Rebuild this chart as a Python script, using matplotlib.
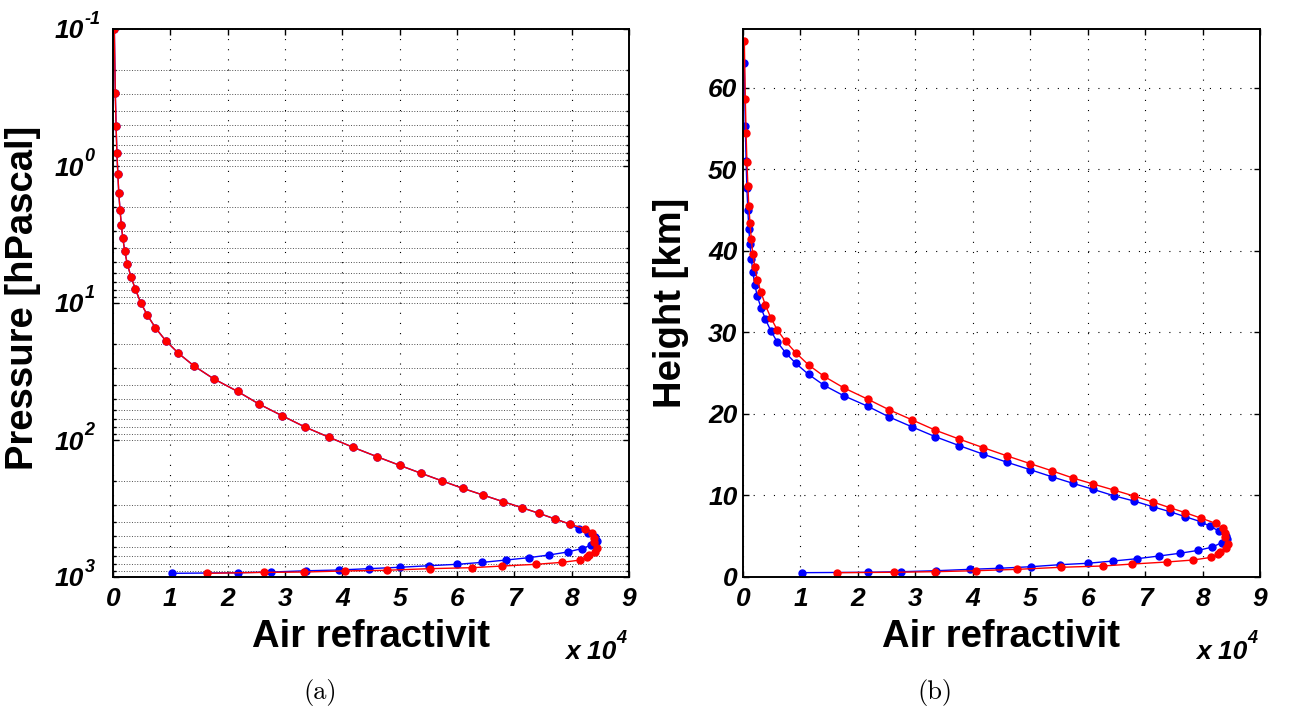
import matplotlib
matplotlib.use('Agg')
import matplotlib.pyplot as plt
from matplotlib.ticker import LogLocator, NullFormatter, FixedLocator

plt.rcParams['font.family'] = 'Liberation Sans'
plt.rcParams['lines.scale_dashes'] = False

# refractivity in units of 1e4, shared upper part of both profiles
n_upper = [0.023, 0.040, 0.054, 0.068, 0.085, 0.101, 0.122, 0.145, 0.171, 0.206,
           0.249, 0.315, 0.391, 0.484, 0.596, 0.741, 0.918, 1.142, 1.413, 1.753,
           2.173, 2.545, 2.949, 3.349, 3.768, 4.186, 4.597, 4.999, 5.374, 5.742,
           6.096, 6.452, 6.805, 7.134, 7.430, 7.701, 7.968]
p_upper = [0.1, 0.294, 0.51, 0.80, 1.15, 1.58, 2.08, 2.68, 3.37, 4.20,
           5.19, 6.46, 7.94, 9.95, 12.2, 15.2, 18.8, 23.3, 28.8, 35.7,
           44.2, 54.6, 66.5, 80.4, 95.5, 113, 132, 153, 175, 199,
           225, 252, 282, 312, 343, 376, 411]

# lower part, blue profile
n_blue_low = [8.129, 8.286, 8.401, 8.434, 8.333, 8.173, 7.928, 7.604, 7.249, 6.854,
              6.441, 5.998, 5.518, 5.007, 4.463, 3.949, 3.360, 2.757, 2.173, 1.023]
p_blue_low = [449, 480, 513, 549, 587, 621, 657, 691, 723, 752,
              782, 808, 827, 849, 869, 889, 901, 920, 931, 940]

# lower part, red profile
n_red_low = [8.230, 8.350, 8.398, 8.398, 8.450, 8.413, 8.295, 8.265, 8.151, 7.830,
             7.376, 6.780, 6.264, 5.532, 4.774, 4.051, 3.334, 2.637, 1.635]
p_red_low = [444, 480, 519, 558, 618, 654, 695, 715, 752, 782,
             808, 832, 855, 869, 893, 903, 920, 925, 940]

# heights [km]
h_blue = [63.07, 55.3, 51.05, 47.66, 44.97, 42.71, 40.8, 39.03, 37.4, 35.84,
          34.42, 32.99, 31.6, 30.2, 28.82, 27.5, 26.2, 24.84, 23.5, 22.23,
          20.93, 19.62, 18.39, 17.2, 16.1, 15.05, 14.07, 13.16, 12.3, 11.49,
          10.75, 9.97, 9.32, 8.62, 8.01, 7.39, 6.78,
          6.22, 5.64, 5.03, 4.70, 4.21, 3.68, 3.27, 2.91, 2.58, 2.24,
          1.96, 1.68, 1.51, 1.26, 1.07, 0.94, 0.77, 0.65, 0.58, 0.53]
h_red = [65.7, 58.65, 54.4, 50.9, 48.0, 45.5, 43.4, 41.4, 39.6, 38.0,
         36.4, 34.9, 33.3, 31.8, 30.3, 28.9, 27.5, 26.0, 24.6, 23.2,
         21.8, 20.5, 19.25, 18.0, 16.9, 15.85, 14.85, 13.9, 13.03, 12.14,
         11.40, 10.67, 9.93, 9.20, 8.50, 7.88, 7.23,
         6.58, 6.01, 5.43, 4.87, 4.01, 3.56, 3.10, 2.82, 2.41, 2.08,
         1.84, 1.59, 1.35, 1.19, 0.94, 0.77, 0.65, 0.58, 0.53]

n_blue = n_upper + n_blue_low
n_red = n_upper + n_red_low
p_blue = p_upper + p_blue_low
p_red = p_upper + p_red_low

x_ticks = list(range(10))
p_ticks = [0.1, 1, 10, 100, 1000]
p_exponents = ['-1', '0', '1', '2', '3']
h_ticks = [0, 10, 20, 30, 40, 50, 60]

W, H = 1290, 709
fig = plt.figure(figsize=(W / 100, H / 100), dpi=100)
ax1 = fig.add_axes([113 / W, 1 - 577 / H, 516 / W, 548 / H])
ax2 = fig.add_axes([743 / W, 1 - 577 / H, 517 / W, 548 / H])

tick_font = dict(fontsize=19, fontweight='bold', fontstyle='italic')
sup_font = dict(fontsize=13, fontweight='bold', fontstyle='italic')
sparse_dot = (0, (0.8, 6.5))
dense_dot = (0, (0.7, 1.2))


def plot_profile(ax, y_blue, y_red):
    ax.plot(n_blue, y_blue, '-o', color='#0000ff', lw=1.0, ms=5, mec='#0000ff')
    ax.plot(n_red, y_red, '-o', color='#ff0000', lw=1.0, ms=5, mec='#ff0000')
    ax.set_xlim(0, 9)
    ax.set_xticks(x_ticks)
    ax.set_xticklabels([str(t) for t in x_ticks], **tick_font)
    ax.tick_params(which='both', direction='in', top=True, right=True, width=1.0)
    ax.tick_params(which='major', length=4)
    ax.tick_params(which='minor', length=2)
    ax.tick_params(axis='x', pad=7)
    for s in ax.spines.values():
        s.set_linewidth(1.4)
    ax.set_axisbelow(True)
    # scale factor below the x axis
    ax.annotate('x 10', xy=(1, 0), xycoords='axes fraction', xytext=(-9.4, -59),
                textcoords='offset points', ha='right', va='baseline', **tick_font)
    ax.annotate('4', xy=(1, 0), xycoords='axes fraction', xytext=(-8.8, -47.5),
                textcoords='offset points', ha='left', va='baseline', **sup_font)


# pressure coordinates
plot_profile(ax1, p_blue, p_red)
ax1.set_yscale('log')
ax1.set_ylim(1000, 0.1)
ax1.yaxis.set_major_locator(FixedLocator(p_ticks))
ax1.set_yticklabels(['10'] * len(p_ticks), **tick_font)
ax1.yaxis.set_minor_locator(LogLocator(base=10, subs=range(2, 10), numticks=20))
ax1.yaxis.set_minor_formatter(NullFormatter())
ax1.tick_params(axis='y', pad=21)
for p, e in zip(p_ticks, p_exponents):
    ax1.annotate(e, xy=(0, p), xycoords=('axes fraction', 'data'), xytext=(-20.5, 3.5),
                 textcoords='offset points', ha='left', va='baseline', **sup_font)
ax1.grid(True, axis='x', which='major', color='k', lw=0.8, ls=sparse_dot)
ax1.grid(True, axis='y', which='both', color='0.2', lw=0.6, ls=dense_dot)

# height coordinates
plot_profile(ax2, h_blue, h_red)
ax2.set_ylim(0, 67.2)
ax2.set_yticks(h_ticks)
ax2.set_yticklabels([str(t) for t in h_ticks], **tick_font)
ax2.tick_params(axis='y', pad=4)
ax2.grid(True, which='major', color='k', lw=0.8, ls=sparse_dot)

label_font = dict(fontsize=27.5, fontweight='bold')
fig.text(371 / W, 1 - 637 / H, 'Air refractivit', ha='center', va='center', **label_font)
fig.text(1001 / W, 1 - 637 / H, 'Air refractivit', ha='center', va='center', **label_font)
fig.text(23.5 / W, 1 - 298 / H, 'Pressure [hPascal]', rotation=90,
         ha='center', va='center', **label_font)
fig.text(671 / W, 1 - 303 / H, 'Height [km]', rotation=90,
         ha='center', va='center', **label_font)

fig.text(320 / W, 1 - 692 / H, '(a)', family='cmr10', fontsize=19, ha='center', va='center')
fig.text(935 / W, 1 - 692 / H, '(b)', family='cmr10', fontsize=19, ha='center', va='center')

fig.savefig('out.png', dpi=100)
